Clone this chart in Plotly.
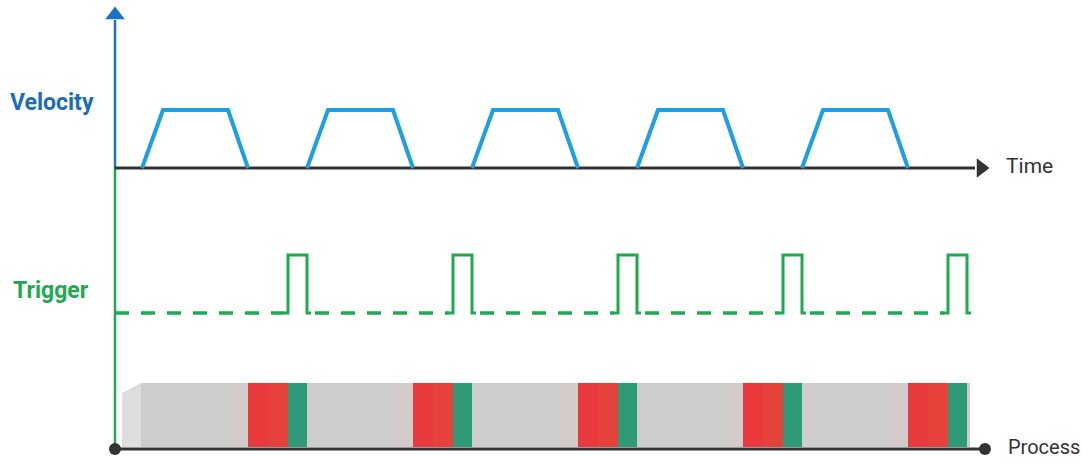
import plotly.graph_objects as go

# ---------------- data ----------------
# times are measured from the origin of the time axis (arbitrary units)
move_starts = [27, 192, 357, 522, 687]          # start of each move
move_profile_t = [0, 21, 86, 106]               # accel / cruise / decel breakpoints
move_profile_v = [0, 1, 1, 0]                   # normalized velocity
trigger_starts = [173, 338, 503, 668, 833]      # trigger pulse rising edges
trigger_width = 19                              # pulse duration
time_axis_end = 860
process_start = 7
process_end = 855
labels = {"velocity": "Velocity", "trigger": "Trigger", "time": "Time", "process": "Process"}

# ---------------- layout constants (pixels) ----------------
W, H = 1083, 462
X0 = 115                      # pixel x of time origin
def px(t):
    return X0 + t
def py(p):                    # pixel y (from top) -> plot y
    return H - p

VEL_BASE, VEL_AMP = 168, 58
TRG_BASE, TRG_AMP = 313, 58
PROC_Y = 449
BAR_TOP, BAR_BOT = 383, 447

BLUE_AX = "#1a72c4"
BLUE_LN = "#1c9fe4"
BLUE_TX = "#1a6cbd"
GREEN = "#1eaa50"
DARK = "#333333"
FONT = "Roboto, Arial, sans-serif"

fig = go.Figure()
shapes = []

# ---- process bar ----
shapes.append(dict(type="path", xref="x", yref="y",
                   path=f"M {px(process_start)},{py(BAR_TOP+10)} L {px(process_start)+19},{py(BAR_TOP)} "
                        f"L {px(process_start)+19},{py(BAR_BOT)} L {px(process_start)},{py(BAR_BOT)} Z",
                   fillcolor="#dedede", line=dict(width=0), layer="below"))
shapes.append(dict(type="rect", xref="x", yref="y",
                   x0=px(process_start)+19, x1=px(process_end), y0=py(BAR_BOT), y1=py(BAR_TOP),
                   fillcolor="#cdcdcd", line=dict(width=0), layer="below"))
for ms, ts in zip(move_starts, trigger_starts):
    red0 = px(ms + move_profile_t[-1])
    trg0 = px(ts)
    trg1 = px(ts + trigger_width)
    shapes.append(dict(type="rect", xref="x", yref="y", x0=red0 - 18, x1=red0,
                       y0=py(BAR_BOT), y1=py(BAR_TOP + 2),
                       fillcolor="#d2cbc9", line=dict(width=0), layer="below"))
    mid = (red0 + trg0) / 2
    shapes.append(dict(type="rect", xref="x", yref="y", x0=red0, x1=mid,
                       y0=py(BAR_BOT), y1=py(BAR_TOP),
                       fillcolor="#e8393d", line=dict(width=0), layer="below"))
    shapes.append(dict(type="rect", xref="x", yref="y", x0=mid, x1=trg0,
                       y0=py(BAR_BOT), y1=py(BAR_TOP),
                       fillcolor="#e6423c", line=dict(width=0), layer="below"))
    shapes.append(dict(type="rect", xref="x", yref="y", x0=trg0, x1=trg1,
                       y0=py(BAR_BOT), y1=py(BAR_TOP),
                       fillcolor="#2e9a76", line=dict(width=0), layer="below"))

# ---- vertical axis (blue top, green bottom) ----
fig.add_trace(go.Scatter(x=[px(0), px(0)], y=[py(20), py(VEL_BASE)], mode="lines",
                         line=dict(color=BLUE_AX, width=2.5), hoverinfo="skip"))
fig.add_trace(go.Scatter(x=[px(0), px(0)], y=[py(VEL_BASE), py(PROC_Y)], mode="lines",
                         line=dict(color=GREEN, width=2.5), hoverinfo="skip"))
fig.add_trace(go.Scatter(x=[px(0)], y=[py(15)], mode="markers",
                         marker=dict(symbol="triangle-up", size=17, color=BLUE_AX), hoverinfo="skip"))

# ---- time axis ----
fig.add_trace(go.Scatter(x=[px(0), px(time_axis_end)], y=[py(VEL_BASE)] * 2, mode="lines",
                         line=dict(color=DARK, width=3), hoverinfo="skip"))
fig.add_trace(go.Scatter(x=[px(time_axis_end) + 6], y=[py(VEL_BASE)], mode="markers",
                         marker=dict(symbol="triangle-right", size=17, color=DARK), hoverinfo="skip"))

# ---- velocity profile ----
for ms in move_starts:
    fig.add_trace(go.Scatter(
        x=[px(ms + t) for t in move_profile_t],
        y=[py(VEL_BASE - v * VEL_AMP) for v in move_profile_v],
        mode="lines", line=dict(color=BLUE_LN, width=4), hoverinfo="skip"))

# ---- trigger signal ----
seg_start = 0
for ts in trigger_starts:
    fig.add_trace(go.Scatter(x=[px(seg_start), px(ts) - 4], y=[py(TRG_BASE)] * 2, mode="lines",
                             line=dict(color=GREEN, width=3.5, dash="14px,12px"), hoverinfo="skip"))
    fig.add_trace(go.Scatter(
        x=[px(ts) - 4, px(ts), px(ts), px(ts + trigger_width), px(ts + trigger_width), px(ts + trigger_width) + 4],
        y=[py(TRG_BASE), py(TRG_BASE), py(TRG_BASE - TRG_AMP), py(TRG_BASE - TRG_AMP), py(TRG_BASE), py(TRG_BASE)],
        mode="lines", line=dict(color=GREEN, width=3), hoverinfo="skip"))
    seg_start = ts + trigger_width + 8

# ---- process axis ----
fig.add_trace(go.Scatter(x=[px(0), px(time_axis_end + 10)], y=[py(PROC_Y)] * 2, mode="lines",
                         line=dict(color=DARK, width=3), hoverinfo="skip"))
fig.add_trace(go.Scatter(x=[px(0), px(time_axis_end + 10)], y=[py(PROC_Y)] * 2, mode="markers",
                         marker=dict(symbol="circle", size=12, color=DARK), hoverinfo="skip"))

# ---- labels ----
ann = [
    dict(x=96, y=py(102), text=f"<b>{labels['velocity']}</b>", xanchor="right", yanchor="middle",
         font=dict(family=FONT, size=23, color=BLUE_TX)),
    dict(x=91, y=py(290), text=f"<b>{labels['trigger']}</b>", xanchor="right", yanchor="middle",
         font=dict(family=FONT, size=23, color=GREEN)),
    dict(x=1004, y=py(166), text=labels["time"], xanchor="left", yanchor="middle",
         font=dict(family=FONT, size=21, color=DARK)),
    dict(x=1006, y=py(447), text=labels["process"], xanchor="left", yanchor="middle",
         font=dict(family=FONT, size=20, color=DARK)),
]
for a in ann:
    a.update(xref="x", yref="y", showarrow=False)

fig.update_layout(
    width=W, height=H, margin=dict(l=0, r=0, t=0, b=0),
    paper_bgcolor="white", plot_bgcolor="white", showlegend=False,
    xaxis=dict(range=[0, W], visible=False, fixedrange=True),
    yaxis=dict(range=[0, H], visible=False, fixedrange=True),
    shapes=shapes, annotations=ann,
)
fig.write_html("out.html", config={"displayModeBar": False})

# remove the browser's default page margin so the figure sits at (0, 0)
with open("out.html", encoding="utf-8") as f:
    html = f.read()
html = html.replace("<head>", "<head><style>html,body{margin:0;padding:0;overflow:hidden;}</style>", 1)
with open("out.html", "w", encoding="utf-8") as f:
    f.write(html)
